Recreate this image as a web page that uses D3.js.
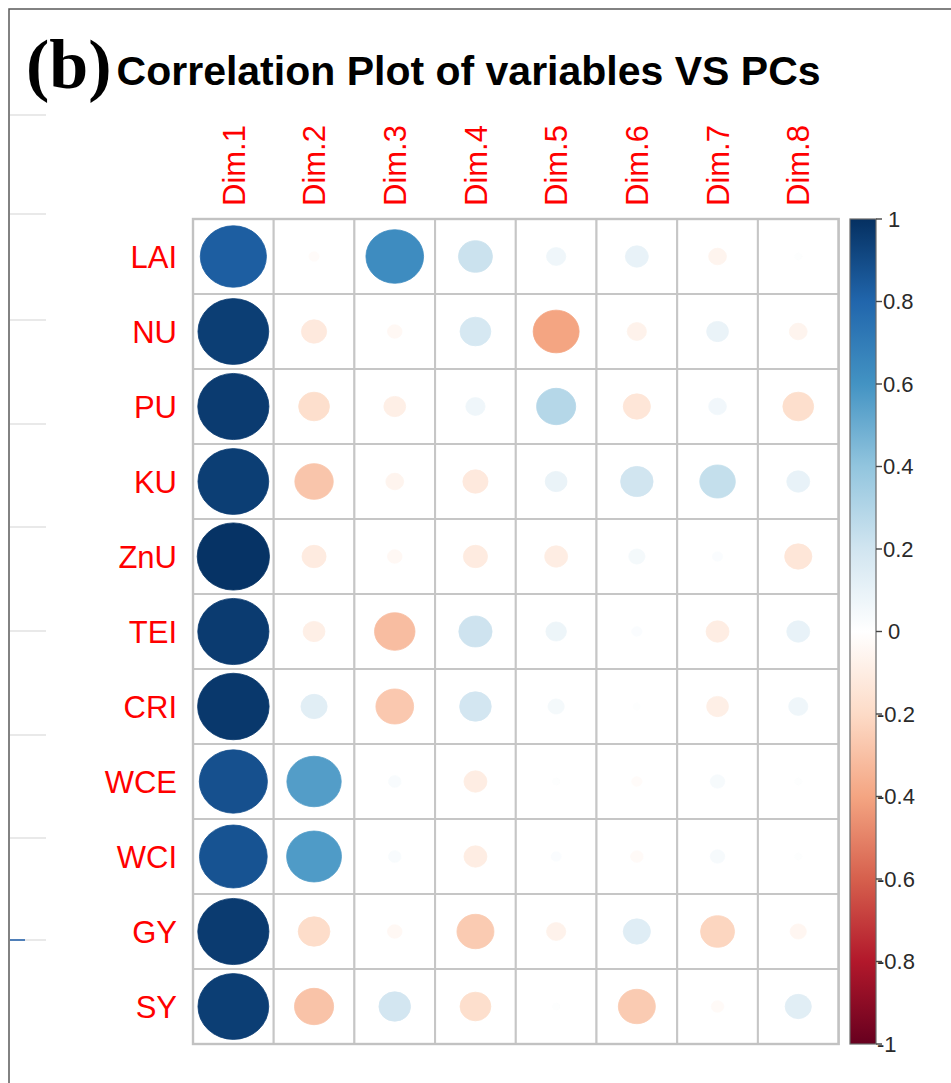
<!DOCTYPE html>
<html>
<head>
<meta charset="utf-8">
<script src="https://cdn.jsdelivr.net/npm/d3@7"></script>
<style>
  html, body { margin: 0; padding: 0; background: #ffffff; }
  svg { display: block; }
</style>
</head>
<body>
<svg id="chart" width="951" height="1083"></svg>
<script>
// Variables (rows) and principal components (columns)
const variables = ["LAI", "NU", "PU", "KU", "ZnU", "TEI", "CRI", "WCE", "WCI", "GY", "SY"];
const dims = ["Dim.1", "Dim.2", "Dim.3", "Dim.4", "Dim.5", "Dim.6", "Dim.7", "Dim.8"];

// Correlation of each variable with Dim.1 ... Dim.8
const corrLAI = [0.83, -0.02, 0.63, 0.22, 0.07, 0.10, -0.06, 0.01];
const corrNU  = [0.95, -0.12, -0.04, 0.18, -0.40, -0.07, 0.09, -0.06];
const corrPU  = [0.96, -0.18, -0.09, 0.07, 0.29, -0.14, 0.06, -0.18];
const corrKU  = [0.95, -0.28, -0.06, -0.12, 0.09, 0.20, 0.24, 0.10];
const corrZnU = [0.99, -0.11, -0.04, -0.11, -0.10, 0.05, 0.02, -0.14];
const corrTEI = [0.96, -0.09, -0.31, 0.21, 0.08, 0.02, -0.10, 0.10];
const corrCRI = [0.97, 0.13, -0.27, 0.19, 0.05, 0.01, -0.09, 0.07];
const corrWCE = [0.88, 0.56, 0.03, -0.10, 0.01, -0.02, 0.04, 0.01];
const corrWCI = [0.87, 0.57, 0.03, -0.10, 0.02, -0.03, 0.04, 0.01];
const corrGY  = [0.96, -0.19, -0.04, -0.26, -0.07, 0.14, -0.22, -0.05];
const corrSY  = [0.95, -0.29, 0.19, -0.18, 0.01, -0.26, -0.03, 0.13];

const legendTicks = [1, 0.8, 0.6, 0.4, 0.2, 0, -0.2, -0.4, -0.6, -0.8, -1];

// RdBu diverging palette, from -1 to 1 in steps of 0.2
const paletteStops = ["#67001F", "#B2182B", "#D6604D", "#F4A582", "#FDDBC7", "#FFFFFF",
                      "#D1E5F0", "#92C5DE", "#4393C3", "#2166AC", "#053061"];

const corrRows = [corrLAI, corrNU, corrPU, corrKU, corrZnU, corrTEI, corrCRI, corrWCE, corrWCI, corrGY, corrSY];
const cells = [];
variables.forEach((v, i) => {
  dims.forEach((d, j) => cells.push({ variable: v, dim: d, value: corrRows[i][j] }));
});

const svg = d3.select("#chart");
const font = "'Liberation Sans', Arial, Helvetica, sans-serif";

// Panel frame (left and top edges)
svg.append("path")
  .attr("d", "M9,1083 L9,9 L951,9")
  .attr("fill", "none")
  .attr("stroke", "#5a5a5a")
  .attr("stroke-width", 1.5);

// Faint guide stubs along the left edge
const stubY = [115, 214, 320, 424, 527, 631, 735, 838, 940];
svg.append("g").selectAll("line").data(stubY).join("line")
  .attr("x1", 10).attr("x2", 46)
  .attr("y1", d => d).attr("y2", d => d)
  .attr("stroke", "#e2e2e2").attr("stroke-width", 1.5);
svg.append("line")
  .attr("x1", 10).attr("x2", 25).attr("y1", 940).attr("y2", 940)
  .attr("stroke", "#4f7fb8").attr("stroke-width", 2);

// Title
const title = svg.append("text")
  .attr("x", 26).attr("y", 88);
title.append("tspan")
  .attr("font-family", "'Liberation Serif', 'Times New Roman', serif")
  .attr("font-weight", "bold")
  .attr("font-size", 70)
  .text("(b)");
title.append("tspan")
  .attr("font-family", font)
  .attr("font-weight", "bold")
  .attr("font-size", 41)
  .attr("dx", 5)
  .attr("dy", -3)
  .text("Correlation Plot of variables VS PCs");

// Scales
const x = d3.scaleBand().domain(dims).range([193, 838.6]);
const y = d3.scaleBand().domain(variables).range([219, 1044]);
const color = d3.scaleLinear()
  .domain(d3.range(11).map(k => -1 + k * 0.2))
  .range(paletteStops)
  .interpolate(d3.interpolateRgb)
  .clamp(true);
const size = d3.scaleSqrt().domain([0, 1]).range([0, 0.9]);

// Grid
svg.append("g").selectAll("rect").data(cells).join("rect")
  .attr("x", d => x(d.dim))
  .attr("y", d => y(d.variable))
  .attr("width", x.bandwidth())
  .attr("height", y.bandwidth())
  .attr("fill", "#ffffff")
  .attr("stroke", "#c6c6c6")
  .attr("stroke-width", 2);

// Circles sized and coloured by correlation
svg.append("g").selectAll("ellipse").data(cells).join("ellipse")
  .attr("cx", d => x(d.dim) + x.bandwidth() / 2)
  .attr("cy", d => y(d.variable) + y.bandwidth() / 2)
  .attr("rx", d => size(Math.abs(d.value)) * x.bandwidth() / 2)
  .attr("ry", d => size(Math.abs(d.value)) * y.bandwidth() / 2)
  .attr("fill", d => color(d.value))
  .attr("stroke", d => color(d.value))
  .attr("stroke-width", 0.8);

// Outer border
svg.append("rect")
  .attr("x", x.range()[0]).attr("y", y.range()[0])
  .attr("width", x.range()[1] - x.range()[0])
  .attr("height", y.range()[1] - y.range()[0])
  .attr("fill", "none")
  .attr("stroke", "#c2c2c2")
  .attr("stroke-width", 2.4);

// Row labels
svg.append("g").selectAll("text").data(variables).join("text")
  .attr("x", 177)
  .attr("y", d => y(d) + y.bandwidth() / 2)
  .attr("dy", "0.36em")
  .attr("text-anchor", "end")
  .attr("font-family", font)
  .attr("font-size", 31)
  .attr("fill", "#FF0000")
  .text(d => d);

// Column labels (vertical)
svg.append("g").selectAll("text").data(dims).join("text")
  .attr("transform", d => `translate(${x(d) + x.bandwidth() / 2},206) rotate(-90)`)
  .attr("dy", "0.36em")
  .attr("text-anchor", "start")
  .attr("font-family", font)
  .attr("font-size", 31)
  .attr("fill", "#FF0000")
  .text(d => d);

// Colour legend
const ly = d3.scaleLinear().domain([-1, 1]).range([1044, 219]);
const grad = svg.append("defs").append("linearGradient")
  .attr("id", "rdbu")
  .attr("x1", 0).attr("y1", 1).attr("x2", 0).attr("y2", 0);
grad.selectAll("stop").data(paletteStops).join("stop")
  .attr("offset", (d, i) => i / (paletteStops.length - 1))
  .attr("stop-color", d => d);

svg.append("rect")
  .attr("x", 850).attr("y", ly(1))
  .attr("width", 26).attr("height", ly(-1) - ly(1))
  .attr("fill", "url(#rdbu)")
  .attr("stroke", "#6a6a6a")
  .attr("stroke-width", 1.2);

const lg = svg.append("g");
lg.selectAll("line").data(legendTicks).join("line")
  .attr("x1", 876).attr("x2", 882)
  .attr("y1", d => ly(d)).attr("y2", d => ly(d))
  .attr("stroke", "#444").attr("stroke-width", 1.4);
lg.selectAll("text").data(legendTicks).join("text")
  .attr("x", d => d < 0 ? 877 : (d === 0 || d === 1 ? 888 : 883))
  .attr("y", d => ly(d))
  .attr("dy", "0.36em")
  .attr("font-family", font)
  .attr("font-size", 22)
  .attr("fill", "#2a2a2a")
  .text(d => String(d));
</script>
</body>
</html>
